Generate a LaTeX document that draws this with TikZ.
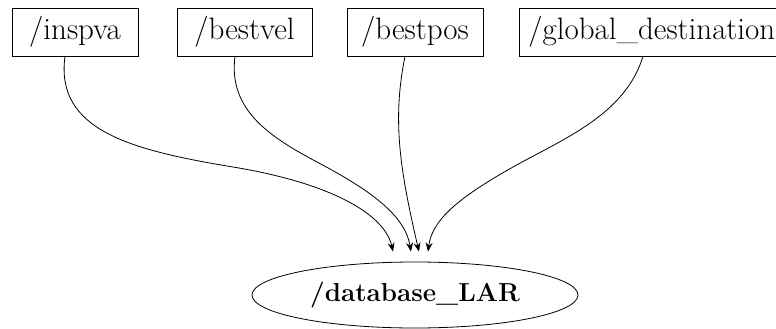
\documentclass[tikz,border=0pt]{standalone}
\usetikzlibrary{arrows.meta,shapes.geometric}
\begin{document}
\begin{tikzpicture}[x=1pt,y=-1pt,
  topic/.style={draw, rectangle, line width=0.8pt, minimum height=48pt,
    inner sep=0pt, font=\fontsize{31}{36}\selectfont},
  dbnode/.style={draw, ellipse, line width=0.8pt, minimum width=326pt,
    minimum height=66pt, inner sep=0pt, font=\fontsize{26}{31}\selectfont\bfseries},
  edge/.style={line width=0.8pt, -{Stealth[length=9pt,width=7pt,inset=3pt]}}]
\useasboundingbox (0,0) rectangle (776,329);
\clip (0,0) rectangle (776,329);

% publishers
\node[topic, minimum width=126pt] (inspva) at (75,32) {/inspva};
\node[topic, minimum width=135pt] (bestvel) at (244.5,32) {/bestvel};
\node[topic, minimum width=136pt] (bestpos) at (415,32) {/bestpos};
\node[topic, anchor=west, inner xsep=9pt] (global) at (519,32) {/global\_destination};

% subscriber
\node[dbnode] (db) at (415,295) {/database\_LAR};

% links
\draw[edge] ([xshift=-10pt]inspva.south) .. controls (55,130) and (130,150) .. (233,167)
  .. controls (333,183.5) and (385,215) .. ([xshift=-22pt,yshift=10pt]db.north);
\draw[edge] ([xshift=-9.5pt]bestvel.south) .. controls (228,110) and (270,137) .. (317,162)
  .. controls (370,190) and (405,215) .. ([xshift=-4pt,yshift=10pt]db.north);
\draw[edge] ([xshift=-10pt]bestpos.south) .. controls (392,120) and (400,170) .. ([xshift=4pt,yshift=10pt]db.north);
\draw[edge] ([xshift=124pt]global.south west) .. controls (625,115) and (563,139) .. (513,167)
  .. controls (458,198) and (432,220) .. ([xshift=13pt,yshift=10pt]db.north);
\end{tikzpicture}
\end{document}
